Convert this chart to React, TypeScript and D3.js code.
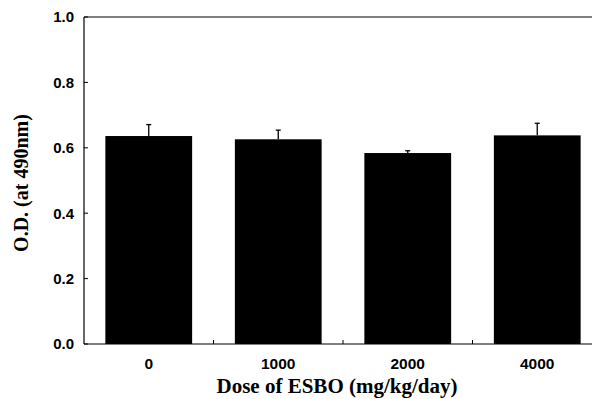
import React from "react";
import * as d3 from "d3";

const doses = ["0", "1000", "2000", "4000"];
const odValues = [0.636, 0.626, 0.584, 0.638];
const odErrors = [0.035, 0.028, 0.007, 0.037];
const yTicks = [0, 0.2, 0.4, 0.6, 0.8, 1.0];

const W = 592;
const H = 399;
const margin = { top: 17, right: -10, bottom: 55, left: 84 };

const App: React.FC = () => {
  const x = d3.scaleBand<string>()
    .domain(doses)
    .range([margin.left, W - margin.right])
    .paddingInner(0.33)
    .paddingOuter(0.165);

  const y = d3.scaleLinear()
    .domain([0, 1])
    .range([H - margin.bottom, margin.top]);

  const x0 = margin.left;
  const x1 = W - margin.right;
  const y0 = y(0);
  const yTop = y(1);
  const gap = x.step() * x.paddingInner();

  const tickFont = "Arial, 'Liberation Sans', sans-serif";
  const titleFont = "'Times New Roman', 'Liberation Serif', serif";

  return (
    <svg width={W} height={H} style={{ position: "absolute", left: 0, top: 0 }}>
      <rect width={W} height={H} fill="#fff" />

      {/* bars */}
      {doses.map((d, i) => (
        <rect key={d}
          x={x(d)} y={y(odValues[i])}
          width={x.bandwidth()} height={y0 - y(odValues[i])}
          fill="#000" />
      ))}

      {/* error bars (upper only) */}
      {doses.map((d, i) => {
        const cx = (x(d) as number) + x.bandwidth() / 2;
        return (
          <g key={"e" + d} stroke="#000" strokeWidth={1.3}>
            <line x1={cx} x2={cx} y1={y(odValues[i])} y2={y(odValues[i] + odErrors[i])} />
            <line x1={cx - 2.5} x2={cx + 2.5}
              y1={y(odValues[i] + odErrors[i])} y2={y(odValues[i] + odErrors[i])} />
          </g>
        );
      })}

      {/* frame */}
      <g stroke="#000" strokeWidth={1.2} fill="none">
        <line x1={x0} x2={x0} y1={yTop} y2={y0} />
        <line x1={x0} x2={x1} y1={y0} y2={y0} />
        <line x1={x0} x2={x1} y1={yTop} y2={yTop} />
        <line x1={x1} x2={x1} y1={yTop} y2={y0} />
      </g>

      {/* y ticks */}
      {yTicks.map(t => (
        <g key={t}>
          <line x1={x0} x2={x0 + 4} y1={y(t)} y2={y(t)} stroke="#000" strokeWidth={1} />
          <text x={x0 - 10} y={y(t)} dy="0.36em" textAnchor="end"
            fontFamily={tickFont} fontWeight="bold" fontSize={15}>
            {d3.format(".1f")(t)}
          </text>
        </g>
      ))}

      {/* x ticks between categories */}
      {doses.slice(1).map(d => {
        const tx = (x(d) as number) - gap / 2;
        return <line key={"t" + d} x1={tx} x2={tx} y1={y0} y2={y0 - 4} stroke="#000" strokeWidth={1} />;
      })}

      {/* x labels */}
      {doses.map(d => (
        <text key={"l" + d} x={(x(d) as number) + x.bandwidth() / 2} y={y0 + 25}
          textAnchor="middle" fontFamily={tickFont} fontWeight="bold" fontSize={15.5}>
          {d}
        </text>
      ))}

      {/* axis titles */}
      <text x={337} y={393} textAnchor="middle" fontFamily={titleFont}
        fontWeight="bold" fontSize={21}>
        Dose of ESBO (mg/kg/day)
      </text>
      <text transform={`translate(28,183) rotate(-90)`} textAnchor="middle"
        fontFamily={titleFont} fontWeight="bold" fontSize={20}>
        O.D. (at 490nm)
      </text>
    </svg>
  );
};

export default App;
